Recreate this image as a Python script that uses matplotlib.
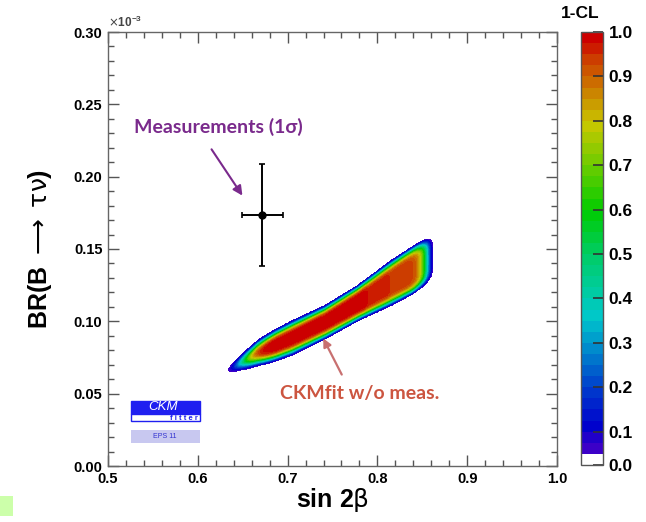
import numpy as np
import matplotlib
matplotlib.use("Agg")
import matplotlib.pyplot as plt
from matplotlib.colors import LinearSegmentedColormap
from matplotlib.patches import Rectangle

# ---------------- data ----------------
# measurement (1 sigma)
meas_x, meas_xerr = 0.672, 0.023
meas_y, meas_yerr = 0.1735, 0.0352          # in units of 1e-3

ridge_x = [0.634, 0.667, 0.705, 0.742, 0.778, 0.816, 0.839, 0.853, 0.862]
ridge_y = [0.0664, 0.0781, 0.0885, 0.0995, 0.1125, 0.1268, 0.1352, 0.1410, 0.1445]
ridge_halfwidth = [0.0075, 0.0102, 0.0120, 0.0117, 0.0124, 0.0157, 0.0166, 0.0170, 0.0170]
ridge_sharpness = [3.8, 4.0, 4.4, 4.8, 5.5, 6.4, 7.5, 7.5, 7.5]
band_ends = [0.634, 0.862]
plateau_x = [0.50, 0.785, 0.790, 0.810, 0.815, 1.00]
plateau_val = [1.00, 1.00, 0.97, 0.97, 0.945, 0.945]

cl_levels = [0.0, 0.05] + list(np.round(np.arange(0.075, 1.0001, 0.025), 3))
cbar_ticks = [0.0, 0.1, 0.2, 0.3, 0.4, 0.5, 0.6, 0.7, 0.8, 0.9, 1.0]
x_ticks = [0.5, 0.6, 0.7, 0.8, 0.9, 1.0]
y_ticks = [0.00, 0.05, 0.10, 0.15, 0.20, 0.25, 0.30]

# ---------------- field ----------------
gx = np.linspace(0.5, 1.0, 700)
gy = np.linspace(0.0, 0.30, 700)
X, Y = np.meshgrid(gx, gy)
yc = np.interp(X, ridge_x, ridge_y)
hw = np.interp(X, ridge_x, ridge_halfwidth)
pp = np.interp(X, ridge_x, ridge_sharpness)
amp = np.interp(X, plateau_x, plateau_val)
t = np.abs(Y - yc) / hw
xl0, xr0 = 0.690, 0.815
sL = np.clip((xl0 - X) / (xl0 - band_ends[0]), 0, None)
sR = np.clip((X - xr0) / (band_ends[1] - xr0), 0, None)
s = sL + sR
q = np.where(X < 0.75, 1.8, 5.0)
r = (t ** q + s ** q) ** (1.0 / q)
Z = amp * 0.05 ** (r ** pp)
Z = np.where(r > 1.0, 0.0, Z)

# ---------------- colours ----------------
anchors = [(0.00, "#3c00c8"), (0.05, "#0000cc"), (0.15, "#0040cc"), (0.25, "#0090cc"),
           (0.32, "#00c8cc"), (0.38, "#00cca0"), (0.47, "#00cc66"), (0.58, "#00cc00"),
           (0.68, "#66cc00"), (0.79, "#c8c800"), (0.89, "#cc7000"), (0.95, "#cc3c00"),
           (1.00, "#cc0000")]
cmap = LinearSegmentedColormap.from_list("root", anchors)
nint = len(cl_levels) - 2
colors = ["white"] + [cmap(i / (nint - 1)) for i in range(nint)]

# ---------------- figure ----------------
W, H = 646, 522
fig = plt.figure(figsize=(W / 100, H / 100), dpi=100)
ax = fig.add_axes([108 / W, 1 - 466 / H, 449 / W, 434 / H])
cax = fig.add_axes([581 / W, 1 - 465 / H, 22 / W, 433 / H])

cs = ax.contourf(X, Y, Z, levels=cl_levels, colors=colors)

ax.errorbar([meas_x], [meas_y], xerr=[meas_xerr], yerr=[meas_yerr], fmt="o",
            color="black", ms=5, lw=1.4, capsize=2.5, capthick=1.2, zorder=5)

ax.set_xlim(0.5, 1.0)
ax.set_ylim(0.0, 0.30)
ax.set_xticks(x_ticks)
ax.set_yticks(y_ticks)
ax.set_xticklabels([f"{v:.1f}" for v in x_ticks])
ax.set_yticklabels([f"{v:.2f}" for v in y_ticks])
ax.set_xticks(np.arange(0.5, 1.0001, 0.02), minor=True)
ax.set_yticks(np.arange(0.0, 0.3001, 0.01), minor=True)
ax.tick_params(which="both", direction="in", top=True, right=True, width=1.0,
               color="#555555")
ax.tick_params(which="major", length=8, labelsize=10.5, pad=4)
ax.tick_params(which="minor", length=4)
for lab in ax.get_xticklabels() + ax.get_yticklabels():
    lab.set_fontweight("bold")
    lab.set_family("Liberation Sans")
for sp in ax.spines.values():
    sp.set_color("#666666")
    sp.set_linewidth(1.0)

ax.set_xlabel(r"sin 2$\mathrm{\beta}$", fontsize=18, fontweight="bold",
              family="Liberation Sans", labelpad=0)
ax.set_ylabel(r"BR(B $\longrightarrow$ $\mathrm{\tau\nu}$)", fontsize=18, fontweight="bold",
              family="Liberation Sans", labelpad=14)
ax.text(0.0, 1.005, r"$\times$10$^{\mathregular{-3}}$", transform=ax.transAxes,
        fontsize=8.5, fontweight="bold", family="Liberation Sans", color="#444444",
        ha="left", va="bottom")

# annotations
ax.annotate("", xy=(0.6514, 0.1853), xytext=(0.6136, 0.2205),
            arrowprops=dict(arrowstyle="-|>", color="#7a2a8c", lw=1.5,
                            mutation_scale=14))
ax.text(0.6225, 0.2343, "Measurements (1σ)", color="#7a2a8c", fontsize=14,
        family="Lato", fontweight="bold", ha="center", va="center")
ax.annotate("", xy=(0.7383, 0.0899), xytext=(0.7617, 0.0615),
            arrowprops=dict(arrowstyle="-|>", color="#c87070", lw=1.6,
                            mutation_scale=12))
ax.text(0.7806, 0.0504, "CKMfit w/o meas.", color="#cc5540", fontsize=14,
        family="Lato", fontweight="bold", ha="center", va="center")

# CKMfitter logo
def fx(px):
    return (px - 108) / 449
def fy(py):
    return (466 - py) / 434
ax.add_patch(Rectangle((fx(131), fy(414)), fx(200) - fx(131), fy(401) - fy(414),
                       transform=ax.transAxes, facecolor="#1f1ff0", edgecolor="#1f1ff0"))
ax.add_patch(Rectangle((fx(131), fy(421)), fx(200) - fx(131), fy(414) - fy(421),
                       transform=ax.transAxes, facecolor="white", edgecolor="#1f1ff0", lw=1))
ax.add_patch(Rectangle((fx(131), fy(443)), fx(200) - fx(131), fy(430) - fy(443),
                       transform=ax.transAxes, facecolor="#c8c8f0", edgecolor="none"))
ax.text(fx(163), fy(407.5), "CKM", transform=ax.transAxes, color="white",
        fontsize=9.5, style="italic", family="Liberation Sans", ha="center", va="center")
ax.text(fx(198), fy(418.5), "f i t t e r", transform=ax.transAxes, color="#1f1ff0",
        fontsize=5.5, fontweight="bold", family="Liberation Sans", ha="right", va="center")
ax.text(fx(165), fy(436.5), "EPS 11", transform=ax.transAxes, color="#3030d0",
        fontsize=5, family="Liberation Sans", ha="center", va="center")

# colorbar
cb = fig.colorbar(cs, cax=cax, ticks=cbar_ticks)
cb.outline.set_edgecolor("#555555")
cb.outline.set_linewidth(1.0)
cax.tick_params(direction="in", length=7, width=1.2, color="#333333", labelsize=12.5, pad=4)
cax.set_yticklabels([f"{v:.1f}" for v in cbar_ticks])
for lab in cax.get_yticklabels():
    lab.set_fontweight("bold")
    lab.set_family("Liberation Sans")
cax.minorticks_off()
fig.text(580 / W, 1 - 13 / H, "1-CL", fontsize=12.5, fontweight="bold",
         family="Liberation Sans", ha="center", va="center")

# small green marker at bottom-left corner
fig.patches.append(Rectangle((0, 1 - 516 / H), 13 / W, 20 / H, transform=fig.transFigure,
                             facecolor="#ccffaa", edgecolor="none"))

fig.savefig("out.png", dpi=100)
